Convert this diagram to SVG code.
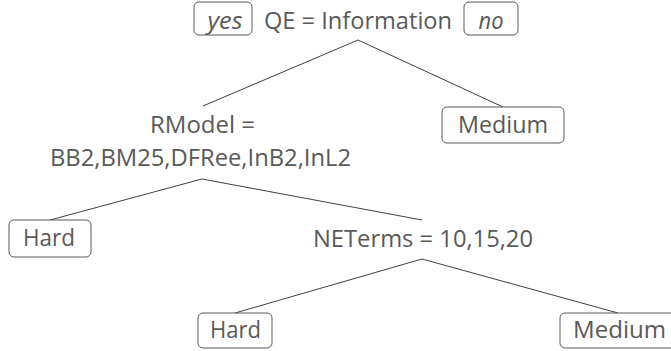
<svg xmlns="http://www.w3.org/2000/svg" width="671" height="351" viewBox="0 0 671 351">
<style>
text{font-family:"Open Sans","Noto Sans","Liberation Sans",sans-serif;font-size:24px;fill:#595959}
.it{font-style:italic}
.box{fill:#ffffff;stroke:#595959;stroke-width:1}
.edge{stroke:#404040;stroke-width:1;fill:none}
</style>
<rect width="671" height="351" fill="#ffffff"/>
<g id="connectors">
<line class="edge" x1="358" y1="40" x2="203" y2="106"/>
<line class="edge" x1="358" y1="40" x2="503" y2="107"/>
<line class="edge" x1="202" y1="179" x2="50" y2="220"/>
<line class="edge" x1="202" y1="179" x2="422" y2="220"/>
<line class="edge" x1="422" y1="259" x2="235" y2="313"/>
<line class="edge" x1="422" y1="259" x2="618" y2="313"/>
</g>
<g id="root">
<rect class="box" x="194" y="2" width="58" height="33" rx="5"/>
<text class="it" x="225" y="29" text-anchor="middle" textLength="35" lengthAdjust="spacingAndGlyphs">yes</text>
<text x="264" y="29" textLength="188" lengthAdjust="spacingAndGlyphs">QE = Information</text>
<rect class="box" x="464" y="2" width="54" height="33" rx="5"/>
<text class="it" x="491" y="29" text-anchor="middle" textLength="25" lengthAdjust="spacingAndGlyphs">no</text>
</g>
<g id="medium1">
<rect class="box" x="442" y="107" width="122" height="36" rx="5"/>
<text x="458" y="133" textLength="90" lengthAdjust="spacingAndGlyphs">Medium</text>
</g>
<g id="rmodel">
<text x="150" y="133" textLength="105" lengthAdjust="spacingAndGlyphs">RModel =</text>
<text x="50" y="166" textLength="301" lengthAdjust="spacingAndGlyphs">BB2,BM25,DFRee,InB2,InL2</text>
</g>
<g id="hard1">
<rect class="box" x="9" y="220" width="82" height="37" rx="5"/>
<text x="23" y="246" textLength="52" lengthAdjust="spacingAndGlyphs">Hard</text>
</g>
<g id="neterms">
<text x="313" y="247" textLength="220" lengthAdjust="spacingAndGlyphs">NETerms = 10,15,20</text>
</g>
<g id="hard2">
<rect class="box" x="198" y="313" width="74" height="35" rx="5"/>
<text x="210" y="338" textLength="51" lengthAdjust="spacingAndGlyphs">Hard</text>
</g>
<g id="medium2">
<rect class="box" x="560" y="313" width="122" height="35" rx="5"/>
<text x="573" y="338" textLength="93" lengthAdjust="spacingAndGlyphs">Medium</text>
</g>
</svg>
